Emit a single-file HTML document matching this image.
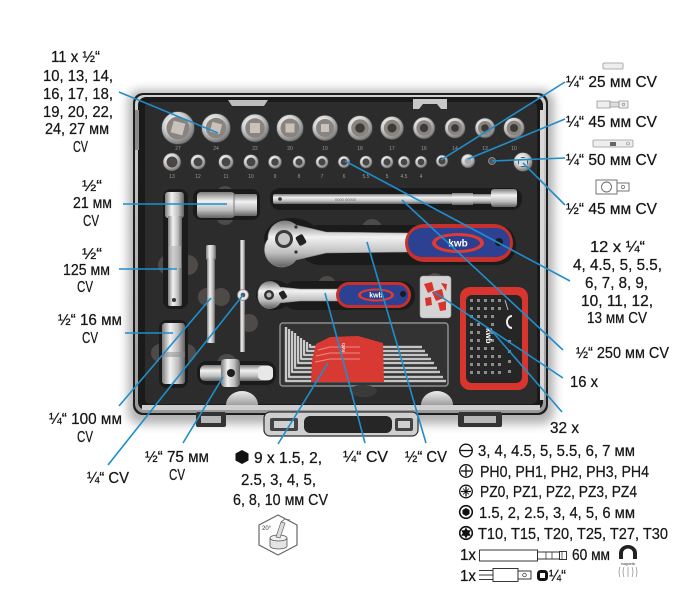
<!DOCTYPE html>
<html><head><meta charset="utf-8"><style>
html,body{margin:0;padding:0;background:#fff;}
svg{display:block;}
.t{font-family:"Liberation Sans",Arial,sans-serif;fill:#161616;font-size:16px;stroke:#161616;stroke-width:0.25;}
.s{font-family:"Liberation Sans",Arial,sans-serif;fill:#9a9a9a;font-size:5px;text-anchor:middle;}
</style></head><body>
<svg width="700" height="609" viewBox="0 0 700 609" xmlns="http://www.w3.org/2000/svg">
<defs>
<filter id="bl" x="-10%" y="-10%" width="120%" height="120%"><feGaussianBlur stdDeviation="5"/></filter>
<radialGradient id="ch" cx="40%" cy="35%" r="65%"><stop offset="0" stop-color="#ffffff"/><stop offset="0.5" stop-color="#d4d4d4"/><stop offset="1" stop-color="#777"/></radialGradient>
<linearGradient id="bh" x1="0" y1="0" x2="0" y2="1"><stop offset="0" stop-color="#7d7d7d"/><stop offset="0.35" stop-color="#f2f2f2"/><stop offset="0.7" stop-color="#bdbdbd"/><stop offset="1" stop-color="#626262"/></linearGradient>
<linearGradient id="bv" x1="0" y1="0" x2="1" y2="0"><stop offset="0" stop-color="#7d7d7d"/><stop offset="0.35" stop-color="#f2f2f2"/><stop offset="0.7" stop-color="#bdbdbd"/><stop offset="1" stop-color="#626262"/></linearGradient>
<linearGradient id="al" x1="0" y1="0" x2="0" y2="1"><stop offset="0" stop-color="#d0d0d0"/><stop offset="1" stop-color="#9a9a9a"/></linearGradient>
<linearGradient id="fh" x1="0" y1="0" x2="0" y2="1"><stop offset="0" stop-color="#ececec"/><stop offset="1" stop-color="#a0a0a0"/></linearGradient>
</defs>
<rect width="700" height="609" fill="#fff"/>

<!-- case shadow & frame -->
<rect x="128" y="90" width="426" height="334" rx="12" fill="#000" opacity="0.3" filter="url(#bl)"/>
<rect x="133" y="93" width="415" height="322" rx="10" fill="#1e1e1e"/>
<rect x="135" y="95" width="411" height="318" rx="9" fill="url(#al)"/>
<rect x="138" y="97" width="405" height="313" rx="8" fill="#1a1a1a"/>
<rect x="145" y="102" width="392" height="302" rx="5" fill="#2c2c2c"/>
<rect x="142" y="405" width="398" height="5" fill="#cfcfcf"/>
<rect x="135" y="110" width="4" height="40" fill="#8a8a8a"/>
<rect x="540" y="110" width="4" height="290" fill="#d8d8d8"/>
<path d="M228 100 h40 l-4 6 h-32 z" fill="#bdbdbd"/>
<path d="M413 99 h34 v10 h-6 l-4 -5 h-14 l-4 5 h-6 z" fill="#c8c8c8"/>

<!-- latches & handle -->
<rect x="196" y="412" width="30" height="15" rx="2" fill="#333"/>
<rect x="201" y="416" width="20" height="7" fill="#b8b8b8"/>
<rect x="458" y="412" width="44" height="15" rx="2" fill="#333"/>
<rect x="464" y="416" width="32" height="7" fill="#b8b8b8"/>
<rect x="264" y="412" width="154" height="24" rx="6" fill="#cfcfcf" stroke="#2a2a2a" stroke-width="1.2"/>
<rect x="304" y="416" width="88" height="17" rx="6" fill="#262626"/>
<rect x="270" y="418" width="28" height="13" rx="2" fill="#444"/>
<rect x="274" y="421" width="20" height="7" fill="#d0d0d0"/>
<rect x="395" y="418" width="18" height="13" rx="2" fill="#444"/>
<rect x="398" y="421" width="12" height="7" fill="#d0d0d0"/>

<!-- finger discs -->
<g fill="#4e4a48">
<circle cx="168" cy="265" r="10"/><circle cx="188" cy="265" r="10"/>
<circle cx="207" cy="297" r="9"/><circle cx="221" cy="297" r="9"/>
<circle cx="249" cy="323" r="9"/>
<circle cx="160" cy="353" r="9"/><circle cx="187" cy="353" r="9"/>
<circle cx="227" cy="364" r="10"/>
<circle cx="327" cy="285" r="9"/>
<circle cx="372" cy="229" r="10"/>
<circle cx="225" cy="195" r="9"/><circle cx="225" cy="216" r="9"/>
<circle cx="363" cy="338" r="9"/>
<circle cx="435" cy="282" r="9"/>
<circle cx="375" cy="196" r="8"/>
</g>

<!-- recesses -->
<g fill="#1b1b1b">
<rect x="270" y="188" width="252" height="22" rx="10"/>
<ellipse cx="292" cy="239" rx="28" ry="21"/>
<rect x="300" y="225" width="216" height="40" rx="19"/>
<ellipse cx="274" cy="295" rx="18" ry="15"/>
<rect x="282" y="281" width="133" height="29" rx="14"/>
<rect x="193" y="189" width="67" height="31" rx="8"/>
<rect x="163" y="189" width="25" height="120" rx="8"/>
<rect x="159" y="320" width="29" height="68" rx="8"/>
<rect x="197" y="361" width="79" height="24" rx="10"/>
</g>

<!-- sockets top row -->
<g stroke="#454545" stroke-width="0.7">
<circle cx="178" cy="128" r="16.5" fill="url(#ch)"/><circle cx="216" cy="128" r="14.5" fill="url(#ch)"/>
<circle cx="255" cy="128" r="14" fill="url(#ch)"/><circle cx="290" cy="128" r="13.5" fill="url(#ch)"/>
<circle cx="325" cy="128" r="12.8" fill="url(#ch)"/><circle cx="360" cy="128" r="12.5" fill="url(#ch)"/>
<circle cx="392" cy="128" r="11.7" fill="url(#ch)"/><circle cx="424" cy="128" r="11" fill="url(#ch)"/>
<circle cx="455" cy="128" r="10.3" fill="url(#ch)"/><circle cx="485" cy="128" r="10" fill="url(#ch)"/>
<circle cx="514" cy="128" r="10.5" fill="url(#ch)"/>
</g>
<g fill="#8a847f">
<circle cx="178" cy="128" r="11.5"/><circle cx="216" cy="128" r="10.2"/><circle cx="255" cy="128" r="9.8"/>
<circle cx="290" cy="128" r="9.5"/><circle cx="325" cy="128" r="9"/><circle cx="360" cy="128" r="8.8"/>
<circle cx="392" cy="128" r="8.2"/><circle cx="424" cy="128" r="7.7"/><circle cx="455" cy="128" r="7.2"/>
<circle cx="485" cy="128" r="7"/><circle cx="514" cy="128" r="7.4"/>
</g>
<g fill="#c9c2bc">
<rect x="172" y="122" width="12" height="12" transform="rotate(15 178 128)"/>
<rect x="211" y="123" width="10" height="10" transform="rotate(15 216 128)"/>
<rect x="250" y="123" width="10" height="10"/>
<rect x="285.5" y="123.5" width="9" height="9"/>
<rect x="321" y="124" width="8" height="8"/>
</g>
<g fill="#3e3a38">
<circle cx="360" cy="128" r="4.8"/><circle cx="392" cy="128" r="4.5"/><circle cx="424" cy="128" r="4.2"/>
<circle cx="455" cy="128" r="3.9"/><circle cx="485" cy="128" r="3.8"/><circle cx="514" cy="128" r="4"/>
</g>
<g>
<text x="178" y="150" class="s">27</text><text x="216" y="150" class="s">24</text><text x="255" y="150" class="s">22</text>
<text x="290" y="150" class="s">20</text><text x="325" y="150" class="s">19</text><text x="360" y="150" class="s">18</text>
<text x="392" y="150" class="s">17</text><text x="424" y="150" class="s">16</text><text x="455" y="150" class="s">14</text>
<text x="485" y="150" class="s">13</text><text x="514" y="150" class="s">10</text>
</g>

<!-- sockets second row -->
<g stroke="#454545" stroke-width="0.6" fill="url(#ch)">
<circle cx="172" cy="162" r="9"/><circle cx="198" cy="162" r="7.5"/><circle cx="226" cy="162" r="7.5"/>
<circle cx="251" cy="162" r="7.5"/><circle cx="275" cy="162" r="6.7"/><circle cx="299" cy="162" r="6.3"/>
<circle cx="322" cy="162" r="6.3"/><circle cx="344" cy="162" r="6"/><circle cx="366" cy="162" r="6.3"/>
<circle cx="387" cy="162" r="6.3"/><circle cx="404" cy="162" r="6"/><circle cx="421" cy="162" r="6"/>
<circle cx="442" cy="161" r="6"/><circle cx="468" cy="161" r="7"/><circle cx="523" cy="162" r="9.5"/>
</g>
<g fill="#4a4644">
<circle cx="172" cy="162" r="5.5"/><circle cx="198" cy="162" r="4.5"/><circle cx="226" cy="162" r="4.5"/>
<circle cx="251" cy="162" r="4.5"/><circle cx="275" cy="162" r="3.8"/><circle cx="299" cy="162" r="3.6"/>
<circle cx="322" cy="162" r="3.6"/><circle cx="344" cy="162" r="3.4"/><circle cx="366" cy="162" r="3.6"/>
<circle cx="387" cy="162" r="3.6"/><circle cx="404" cy="162" r="3.4"/><circle cx="421" cy="162" r="3.4"/>
<circle cx="442" cy="161" r="3.6"/><circle cx="523" cy="162" r="5"/>
</g>
<circle cx="468" cy="161" r="3.5" fill="#aaa"/>
<circle cx="492" cy="161" r="3.5" fill="#555" stroke="#999" stroke-width="0.8"/>
<rect x="519" y="158" width="8" height="8" fill="#ddd"/>
<g>
<text x="172" y="178" class="s">13</text><text x="198" y="178" class="s">12</text><text x="226" y="178" class="s">11</text>
<text x="251" y="178" class="s">10</text><text x="275" y="178" class="s">9</text><text x="299" y="178" class="s">8</text>
<text x="322" y="178" class="s">7</text><text x="344" y="178" class="s">6</text><text x="366" y="178" class="s">5.5</text>
<text x="387" y="178" class="s">5</text><text x="404" y="178" class="s">4.5</text><text x="421" y="178" class="s">4</text>
</g>

<!-- 1/2 125 extension -->
<rect x="165" y="192" width="19" height="26" rx="3" fill="url(#bv)"/>
<rect x="168" y="216" width="14" height="80" fill="url(#bv)"/>
<rect x="169" y="246" width="12" height="22" fill="#b5b5b5" opacity="0.6"/>
<rect x="168" y="293" width="14" height="13" rx="2" fill="url(#bv)"/>
<circle cx="174" cy="300" r="2" fill="#333"/>
<!-- 21mm socket -->
<rect x="197" y="192" width="38" height="26" rx="4" fill="url(#bh)"/>
<rect x="234" y="194" width="23" height="22" rx="2" fill="url(#bh)"/>
<line x1="234" y1="194" x2="234" y2="216" stroke="#777" stroke-width="1"/>
<!-- long extension -->
<rect x="273" y="194" width="220" height="10" rx="2" fill="url(#bh)"/>
<rect x="452" y="193" width="21" height="12" fill="url(#bh)"/>
<rect x="491" y="189" width="26" height="18" rx="3" fill="url(#bh)"/>
<circle cx="280" cy="199" r="1.8" fill="#333"/>
<text x="335" y="201" font-family="Liberation Sans" font-size="4" fill="#666">0000 00000</text>

<!-- big ratchet -->
<path d="M268 239 a17 17 0 0 1 28 -14 l30 7 l82 1 l0 19 l-82 1 l-30 7 a17 17 0 0 1 -28 -21z" fill="url(#bh)" stroke="#8a8a8a" stroke-width="0.6"/>
<circle cx="284" cy="239" r="9" fill="#3a3a3a"/>
<circle cx="284" cy="239" r="6" fill="#c6c6c6"/>
<rect x="297" y="235" width="8" height="10" rx="2" fill="#222" transform="rotate(-30 301 240)"/>
<circle cx="296" cy="227" r="1.6" fill="#333"/><circle cx="296" cy="252" r="1.6" fill="#333"/>
<rect x="405" y="224" width="108" height="38" rx="19" fill="#c8302b"/>
<rect x="408" y="228" width="102" height="29" rx="14" fill="#2c4192"/>
<ellipse cx="458" cy="243" rx="26" ry="10" fill="#e03a33"/>
<ellipse cx="458" cy="243" rx="22" ry="7" fill="#2a3f8f"/>
<text x="458" y="246.5" font-family="Liberation Sans" font-size="10" font-weight="bold" fill="#fff" text-anchor="middle">kwb</text>
<circle cx="499" cy="242" r="4" fill="#1a1a1a"/>

<!-- small ratchet -->
<path d="M258 295 a12 12 0 0 1 22 -8 l20 2 l38 0 l0 12 l-38 0 l-20 2 a12 12 0 0 1 -22 -8z" fill="url(#bh)" stroke="#8a8a8a" stroke-width="0.6"/>
<circle cx="269" cy="295" r="5" fill="#333"/><circle cx="269" cy="295" r="2.5" fill="#bbb"/>
<rect x="280" y="291" width="6" height="8" rx="1.5" fill="#222" transform="rotate(-30 283 295)"/>
<rect x="336" y="282" width="75" height="26" rx="13" fill="#c8302b"/>
<rect x="339" y="285" width="69" height="20" rx="10" fill="#2c4192"/>
<ellipse cx="376" cy="295" rx="18" ry="6.5" fill="#e03a33"/>
<ellipse cx="376" cy="295" rx="15" ry="4.5" fill="#2a3f8f"/>
<text x="376" y="297.5" font-family="Liberation Sans" font-size="7" font-weight="bold" fill="#fff" text-anchor="middle">kwb</text>
<circle cx="403" cy="294" r="3" fill="#1a1a1a"/>

<!-- 1/4 ext 100 -->
<rect x="206" y="245" width="10" height="15" rx="2" fill="url(#bv)"/>
<rect x="207" y="258" width="8" height="85" fill="url(#bv)"/>
<!-- T bar -->
<rect x="240" y="240" width="5" height="112" fill="url(#bv)"/>
<circle cx="243" cy="295" r="5.5" fill="#e6e6e6" stroke="#888" stroke-width="0.8"/>
<circle cx="243" cy="295" r="2.3" fill="#555"/>
<!-- 16mm socket -->
<rect x="162" y="323" width="23" height="61" rx="3" fill="url(#bv)"/>
<rect x="162" y="352" width="23" height="5" fill="#888" opacity="0.5"/>
<!-- 75 sliding T -->
<rect x="200" y="365" width="72" height="16" rx="5" fill="url(#bh)"/>
<rect x="221" y="359" width="19" height="28" rx="4" fill="url(#bv)"/>
<circle cx="231" cy="373" r="4" fill="#1e1e1e"/>
<rect x="258" y="366" width="15" height="14" rx="4" fill="#e8e8e8"/>

<!-- hex key tray -->
<rect x="280" y="323" width="168" height="63" rx="3" fill="#333" stroke="#8e8e8e" stroke-width="1.5"/>
<g fill="none" stroke-linejoin="round">
<g stroke="#5a5a5a" stroke-width="3.4">
<polyline points="286,327 286,381 446,381"/><polyline points="289,329 289,377 443,377"/>
<polyline points="292,331 292,372 440,372"/><polyline points="295,333 295,368 437,368"/>
<polyline points="298,336 298,363 434,363"/><polyline points="301,338 301,359 431,359"/>
<polyline points="304,340 304,355 428,355"/><polyline points="307,342 307,351 425,351"/>
<polyline points="310,344 310,347 422,347"/>
</g>
<g stroke="#d6d6d6" stroke-width="1.8">
<polyline points="286,327 286,381 446,381"/><polyline points="289,329 289,377 443,377"/>
<polyline points="292,331 292,372 440,372"/><polyline points="295,333 295,368 437,368"/>
<polyline points="298,336 298,363 434,363"/><polyline points="301,338 301,359 431,359"/>
<polyline points="304,340 304,355 428,355"/><polyline points="307,342 307,351 425,351"/>
<polyline points="310,344 310,347 422,347"/>
</g>
</g>
<polygon points="316,344 330,337 358,336 383,343 384,382 311,382 312,360" fill="#d83a33"/>
<g stroke="#f08a84" stroke-width="1" fill="none">
<polyline points="318,350 330,347 360,347"/><polyline points="316,356 330,353 360,353"/><polyline points="315,362 330,359 360,359"/>
</g>
<text x="345" y="352" font-family="Liberation Sans" font-size="5" fill="#fff" transform="rotate(-90 345 352)">kwb</text>

<!-- clear box -->
<rect x="420" y="276" width="31" height="42" rx="3" fill="#d4d4d4" stroke="#9a9a9a" stroke-width="0.6"/>
<g fill="#d8332d">
<polygon points="424,284 432,282 434,290 428,293"/><polygon points="432,292 442,289 444,298 436,301"/>
<polygon points="425,298 431,297 432,305 426,306"/><polygon points="438,303 446,301 446,310 440,311"/>
<polygon points="441,283 447,284 446,291"/>
</g>

<!-- bit box -->
<rect x="460" y="287" width="68" height="103" rx="10" fill="#d9352f"/>
<rect x="466" y="295" width="56" height="88" rx="6" fill="#262626"/>
<g fill="#8c8c8c">
<rect x="470" y="299" width="3" height="3"/><rect x="477" y="299" width="3" height="3"/><rect x="484" y="299" width="3" height="3"/><rect x="491" y="299" width="3" height="3"/>
<rect x="470" y="307" width="3" height="3"/><rect x="477" y="307" width="3" height="3"/><rect x="484" y="307" width="3" height="3"/><rect x="491" y="307" width="3" height="3"/>
<rect x="470" y="315" width="3" height="3"/><rect x="477" y="315" width="3" height="3"/><rect x="484" y="315" width="3" height="3"/><rect x="491" y="315" width="3" height="3"/>
<rect x="470" y="323" width="3" height="3"/><rect x="477" y="323" width="3" height="3"/><rect x="491" y="323" width="3" height="3"/>
<rect x="470" y="331" width="3" height="3"/><rect x="477" y="331" width="3" height="3"/><rect x="491" y="331" width="3" height="3"/>
<rect x="470" y="339" width="3" height="3"/><rect x="477" y="339" width="3" height="3"/><rect x="491" y="339" width="3" height="3"/>
<rect x="470" y="347" width="3" height="3"/><rect x="477" y="347" width="3" height="3"/><rect x="484" y="347" width="3" height="3"/><rect x="491" y="347" width="3" height="3"/>
<rect x="470" y="355" width="3" height="3"/><rect x="477" y="355" width="3" height="3"/><rect x="484" y="355" width="3" height="3"/><rect x="491" y="355" width="3" height="3"/>
<rect x="470" y="363" width="3" height="3"/><rect x="477" y="363" width="3" height="3"/><rect x="484" y="363" width="3" height="3"/><rect x="491" y="363" width="3" height="3"/>
<rect x="470" y="371" width="3" height="3"/><rect x="477" y="371" width="3" height="3"/><rect x="484" y="371" width="3" height="3"/><rect x="491" y="371" width="3" height="3"/>
<rect x="498" y="299" width="3" height="3"/><rect x="498" y="307" width="3" height="3"/><rect x="498" y="355" width="3" height="3"/><rect x="498" y="363" width="3" height="3"/><rect x="498" y="371" width="3" height="3"/>
<rect x="508" y="340" width="3" height="3"/><rect x="508" y="350" width="3" height="3"/><rect x="508" y="360" width="3" height="3"/><rect x="508" y="370" width="3" height="3"/>
</g>
<text x="486" y="328" font-family="Liberation Sans" font-size="8" font-weight="bold" fill="#fff" transform="rotate(90 486 328)">kwb</text>
<path d="M512 316 a5 6 0 1 0 0 12" fill="none" stroke="#eee" stroke-width="2"/>
<line x1="505" y1="300" x2="508" y2="310" stroke="#bbb" stroke-width="1"/>

<!-- bottom finger holes -->
<path d="M226 405 A16 14 0 0 1 258 405 Z" fill="url(#fh)"/>
<path d="M421 405 A16 14 0 0 1 453 405 Z" fill="url(#fh)"/>
<ellipse cx="363" cy="391" rx="14" ry="6" fill="#3a3a3a"/>

<!-- leader lines -->
<g stroke="#1f8ecb" stroke-width="1.6" fill="none">
<line x1="119" y1="92" x2="218" y2="133"/>
<line x1="123" y1="204" x2="227" y2="204"/>
<line x1="119" y1="269" x2="177" y2="269"/>
<line x1="125" y1="333" x2="173" y2="333"/>
<line x1="119" y1="406" x2="211" y2="298"/>
<line x1="108" y1="465" x2="243" y2="295"/>
<line x1="183" y1="443" x2="223" y2="377"/>
<line x1="278" y1="444" x2="328" y2="363"/>
<line x1="365" y1="443" x2="325" y2="293"/>
<line x1="426" y1="443" x2="367" y2="242"/>
<line x1="565" y1="82" x2="441" y2="160"/>
<line x1="565" y1="119" x2="468" y2="159"/>
<line x1="565" y1="158" x2="492" y2="161"/>
<line x1="565" y1="205" x2="523" y2="163"/>
<line x1="570" y1="281" x2="345" y2="161"/>
<line x1="563" y1="350" x2="402" y2="200"/>
<line x1="563" y1="378" x2="434" y2="292"/>
<line x1="562" y1="412" x2="491" y2="330"/>
</g>

<!-- left labels -->
<text class="t" x="51" y="62" textLength="49" lengthAdjust="spacingAndGlyphs">11 x ½“</text>
<text class="t" x="43" y="81" textLength="70" lengthAdjust="spacingAndGlyphs">10, 13, 14,</text>
<text class="t" x="43" y="99" textLength="70" lengthAdjust="spacingAndGlyphs">16, 17, 18,</text>
<text class="t" x="43" y="117" textLength="70" lengthAdjust="spacingAndGlyphs">19, 20, 22,</text>
<text class="t" x="45" y="134" textLength="64" lengthAdjust="spacingAndGlyphs">24, 27 мм</text>
<text class="t" x="73" y="152" textLength="15" lengthAdjust="spacingAndGlyphs">CV</text>
<text class="t" x="82" y="191" textLength="20" lengthAdjust="spacingAndGlyphs">½“</text>
<text class="t" x="73" y="208" textLength="39" lengthAdjust="spacingAndGlyphs">21 мм</text>
<text class="t" x="83" y="226" textLength="16" lengthAdjust="spacingAndGlyphs">CV</text>
<text class="t" x="82" y="259" textLength="20" lengthAdjust="spacingAndGlyphs">½“</text>
<text class="t" x="63" y="275" textLength="47" lengthAdjust="spacingAndGlyphs">125 мм</text>
<text class="t" x="77" y="292" textLength="16" lengthAdjust="spacingAndGlyphs">CV</text>
<text class="t" x="58" y="325" textLength="64" lengthAdjust="spacingAndGlyphs">½“ 16 мм</text>
<text class="t" x="82" y="343" textLength="16" lengthAdjust="spacingAndGlyphs">CV</text>
<text class="t" x="49" y="424" textLength="73" lengthAdjust="spacingAndGlyphs">¼“ 100 мм</text>
<text class="t" x="77" y="442" textLength="16" lengthAdjust="spacingAndGlyphs">CV</text>
<text class="t" x="87" y="483" textLength="42" lengthAdjust="spacingAndGlyphs">¼“ CV</text>
<text class="t" x="145" y="462" textLength="64" lengthAdjust="spacingAndGlyphs">½“ 75 мм</text>
<text class="t" x="169" y="480" textLength="16" lengthAdjust="spacingAndGlyphs">CV</text>
<polygon points="242,450 248.5,453.5 248.5,460.5 242,464 235.5,460.5 235.5,453.5" fill="#111"/>
<text class="t" x="254" y="463" textLength="68" lengthAdjust="spacingAndGlyphs">9 x 1.5, 2,</text>
<text class="t" x="241" y="485" textLength="75" lengthAdjust="spacingAndGlyphs">2.5, 3, 4, 5,</text>
<text class="t" x="233" y="505" textLength="95" lengthAdjust="spacingAndGlyphs">6, 8, 10 мм CV</text>
<text class="t" x="343" y="462" textLength="45" lengthAdjust="spacingAndGlyphs">¼“ CV</text>
<text class="t" x="405" y="462" textLength="42" lengthAdjust="spacingAndGlyphs">½“ CV</text>

<!-- hex angle icon -->
<polygon points="278,515 297,525 297,545 278,555 259,545 259,525" fill="#fff" stroke="#666" stroke-width="1.2"/>
<path d="M270 538 v8 a8.5 3 0 0 0 17 0 v-8" fill="#e4e4e4" stroke="#555" stroke-width="0.8"/>
<ellipse cx="278.5" cy="538" rx="8.5" ry="3" fill="#f2f2f2" stroke="#555" stroke-width="0.8"/>
<path d="M276 537 l5 -15 l4 1 l-5 15 z" fill="#ddd" stroke="#666" stroke-width="0.7"/>
<path d="M281 522 l4 -3 l5 1" fill="none" stroke="#666" stroke-width="0.8"/>
<text x="262" y="530" font-family="Liberation Sans" font-size="6" fill="#333">20°</text>

<!-- right labels -->
<rect x="603" y="63" width="20" height="6" rx="1" fill="#eee" stroke="#999" stroke-width="0.8"/>
<text class="t" x="566" y="87" textLength="91" lengthAdjust="spacingAndGlyphs">¼“ 25 мм CV</text>
<rect x="597" y="101" width="13" height="7" fill="#eee" stroke="#999" stroke-width="0.8"/>
<rect x="610" y="102" width="9" height="5" fill="#ddd" stroke="#999" stroke-width="0.8"/>
<rect x="619" y="101" width="9" height="7" fill="#eee" stroke="#999" stroke-width="0.8"/>
<circle cx="623.5" cy="104.5" r="1.3" fill="none" stroke="#888" stroke-width="0.6"/>
<text class="t" x="566" y="127" textLength="91" lengthAdjust="spacingAndGlyphs">¼“ 45 мм CV</text>
<rect x="593" y="140" width="40" height="7" rx="1" fill="#eee" stroke="#999" stroke-width="0.8"/>
<rect x="610" y="142" width="6" height="4" fill="#666"/>
<circle cx="628" cy="143.5" r="1.5" fill="none" stroke="#888" stroke-width="0.6"/>
<text class="t" x="566" y="165" textLength="91" lengthAdjust="spacingAndGlyphs">¼“ 50 мм CV</text>
<rect x="596" y="180" width="21" height="14" fill="#fff" stroke="#666" stroke-width="0.9"/>
<circle cx="606.5" cy="187" r="5" fill="none" stroke="#666" stroke-width="0.9"/>
<rect x="617" y="183" width="12" height="8" fill="#fff" stroke="#666" stroke-width="0.9"/>
<circle cx="623" cy="187" r="1.6" fill="none" stroke="#666" stroke-width="0.7"/>
<text class="t" x="566" y="214" textLength="91" lengthAdjust="spacingAndGlyphs">½“ 45 мм CV</text>
<text class="t" x="590" y="252" textLength="55" lengthAdjust="spacingAndGlyphs">12 x ¼“</text>
<text class="t" x="573" y="270" textLength="89" lengthAdjust="spacingAndGlyphs">4, 4.5, 5, 5.5,</text>
<text class="t" x="585" y="288" textLength="63" lengthAdjust="spacingAndGlyphs">6, 7, 8, 9,</text>
<text class="t" x="581" y="306" textLength="72" lengthAdjust="spacingAndGlyphs">10, 11, 12,</text>
<text class="t" x="587" y="323" textLength="60" lengthAdjust="spacingAndGlyphs">13 мм CV</text>
<text class="t" x="576" y="358" textLength="93" lengthAdjust="spacingAndGlyphs">½“ 250 мм CV</text>
<text class="t" x="570" y="387" textLength="28" lengthAdjust="spacingAndGlyphs">16 x</text>
<text class="t" x="550" y="433" textLength="29" lengthAdjust="spacingAndGlyphs">32 x</text>

<!-- legend -->
<g fill="none" stroke="#111" stroke-width="1.3">
<circle cx="466" cy="450.5" r="6.3"/><line x1="460" y1="450.5" x2="472" y2="450.5"/>
<circle cx="466" cy="471" r="6.3"/><line x1="466" y1="466" x2="466" y2="476"/><line x1="461" y1="471" x2="471" y2="471"/>
<circle cx="466" cy="491.5" r="6.3"/><line x1="466" y1="486.5" x2="466" y2="496.5"/><line x1="461" y1="491.5" x2="471" y2="491.5"/>
<circle cx="466" cy="512" r="6.3" stroke-width="1.6"/>
<circle cx="466" cy="533" r="6.3" stroke-width="1.6"/>
</g>
<g stroke="#111" stroke-width="0.8"><line x1="463" y1="488.5" x2="469" y2="494.5"/><line x1="469" y1="488.5" x2="463" y2="494.5"/></g>
<polygon points="466,508 469.5,510 469.5,514 466,516 462.5,514 462.5,510" fill="#111"/>
<polygon points="466,527.5 467.6,530.3 470.8,530.3 469.2,533 470.8,535.7 467.6,535.7 466,538.5 464.4,535.7 461.2,535.7 462.8,533 461.2,530.3 464.4,530.3" fill="#111"/>
<text class="t" x="478" y="456" textLength="157" lengthAdjust="spacingAndGlyphs">3, 4, 4.5, 5, 5.5, 6, 7 мм</text>
<text class="t" x="480" y="477" textLength="169" lengthAdjust="spacingAndGlyphs">PH0, PH1, PH2, PH3, PH4</text>
<text class="t" x="480" y="497" textLength="157" lengthAdjust="spacingAndGlyphs">PZ0, PZ1, PZ2, PZ3, PZ4</text>
<text class="t" x="479" y="518" textLength="156" lengthAdjust="spacingAndGlyphs">1.5, 2, 2.5, 3, 4, 5, 6 мм</text>
<text class="t" x="478" y="539" textLength="190" lengthAdjust="spacingAndGlyphs">T10, T15, T20, T25, T27, T30</text>
<text class="t" x="460" y="560" textLength="16" lengthAdjust="spacingAndGlyphs">1x</text>
<rect x="479.5" y="550" width="58" height="11" fill="#fff" stroke="#222" stroke-width="0.9"/>
<rect x="537.5" y="552" width="22" height="7" fill="#fff" stroke="#222" stroke-width="0.9"/>
<rect x="559.5" y="551.5" width="7" height="8" fill="#fff" stroke="#222" stroke-width="0.9"/>
<g stroke="#222" stroke-width="0.7"><line x1="546" y1="552" x2="546" y2="559"/><line x1="552" y1="552" x2="552" y2="559"/><line x1="562" y1="551.5" x2="562" y2="559.5"/></g>
<text class="t" x="572" y="560" textLength="38" lengthAdjust="spacingAndGlyphs">60 мм</text>
<path d="M619 559 v-6 a9 8 0 0 1 18 0 v6 h-4 v-6 a5 4.5 0 0 0 -10 0 v6 z" fill="#222"/>
<text x="628" y="565" font-family="Liberation Sans" font-size="3.6" fill="#333" text-anchor="middle">magnetic</text>
<g stroke="#777" stroke-width="0.6" fill="none"><path d="M620 567 q-2 5 0 10"/><path d="M624 567 q-2 5 0 10"/><path d="M628 567 v10"/><path d="M632 567 q2 5 0 10"/><path d="M636 567 q2 5 0 10"/></g>
<text class="t" x="460" y="581" textLength="16" lengthAdjust="spacingAndGlyphs">1x</text>
<g stroke="#222" stroke-width="0.9"><line x1="479" y1="570.5" x2="493" y2="570.5"/><line x1="479" y1="575" x2="493" y2="575"/><line x1="479" y1="579.5" x2="493" y2="579.5"/></g>
<rect x="493" y="568.5" width="25" height="13" fill="#fff" stroke="#222" stroke-width="0.9"/>
<rect x="518" y="571" width="13" height="8" fill="#fff" stroke="#222" stroke-width="0.9"/>
<circle cx="524.5" cy="575" r="1.8" fill="none" stroke="#222" stroke-width="0.7"/>
<rect x="537" y="570" width="11" height="11" rx="3.5" fill="#111"/>
<rect x="540" y="573" width="5" height="5" fill="#fff"/>
<text class="t" x="549" y="581" textLength="17" lengthAdjust="spacingAndGlyphs">¼“</text>
</svg>
</body></html>
